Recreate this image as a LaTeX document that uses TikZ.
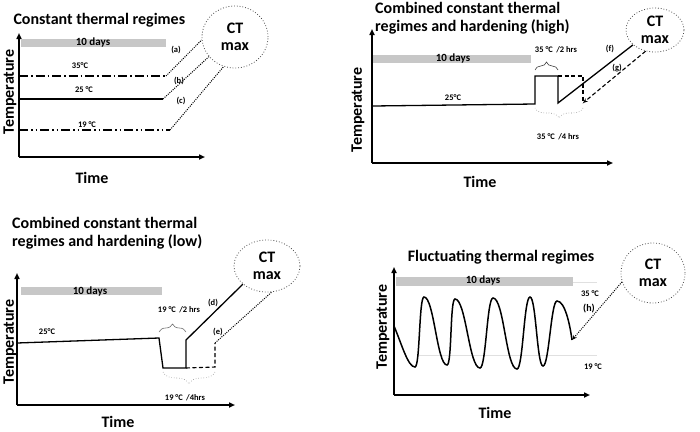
\documentclass[tikz,border=0pt]{standalone}
\usepackage{fontspec}
\setmainfont{Carlito}
\usetikzlibrary{arrows.meta,shapes.geometric,decorations.pathreplacing}
\begin{document}
\begin{tikzpicture}[x=1pt,y=-1pt,
  every node/.style={font=\bfseries},
  title/.style={font=\bfseries\fontsize{16}{18}\selectfont, align=left},
  axislbl/.style={font=\bfseries\fontsize{16}{18}\selectfont},
  small/.style={font=\bfseries\fontsize{8.5}{10}\selectfont},
  daylbl/.style={font=\bfseries\fontsize{11}{12}\selectfont},
  axis/.style={line width=1.6pt, -{Triangle[length=6pt,width=5pt]}},
  regime/.style={line width=1.3pt},
  dayband/.style={fill=black!22},
  ctbubble/.style={draw=black!70, dotted, line width=0.8pt, ellipse, align=center,
    font=\bfseries\fontsize{16}{17}\selectfont},
  link/.style={line width=1pt, dash pattern=on 1pt off 1.2pt},
  dashlink/.style={line width=1.1pt, dash pattern=on 4pt off 2.5pt},
  topbrace/.style={draw=black!75, line width=0.6pt, decorate, decoration={brace, amplitude=8pt}},
  botbrace/.style={draw=black!45, line width=0.6pt, dotted, decorate, decoration={brace, amplitude=10pt}}]
  \useasboundingbox (0,0) rectangle (700,431);

  % ---- Constant thermal regimes
  \node[title, anchor=west] (titleA) at (10,20) {Constant thermal regimes};
  \draw[axis] (19,157) -- (19,33);
  \draw[axis] (19,157) -- (205,157);
  \node[axislbl, rotate=90] (tempA) at (10,92) {Temperature};
  \node[axislbl] (timeA) at (92,178) {Time};
  \fill[dayband] (21,39) rectangle (166,47);
  \node[daylbl] (daysA) at (93,43) {10 days};
  \node[ctbubble, minimum width=66pt, minimum height=62pt] (ctA) at (235,37) {CT\\max};
  \coordinate (a35) at (166,76);
  \coordinate (a25) at (163,99);
  \coordinate (a19) at (170,130);
  \draw[regime, line width=1.2pt, dash pattern=on 9pt off 3pt on 1.5pt off 3pt] (19,76) -- (a35);
  \draw[regime] (19,99) -- (a25);
  \draw[regime, line width=1.2pt, dash pattern=on 9pt off 3pt on 1.5pt off 3pt on 1.5pt off 3pt] (19,130) -- (a19);
  \node[small] (lblA35) at (80,66) {35°C};
  \node[small] (lblA25) at (84,90) {25 °C};
  \node[small] (lblA19) at (87,125) {19 °C};
  \draw[link] (a35) -- (ctA.185);
  \draw[link] (a25) -- (ctA.217);
  \draw[link] (a19) -- (ctA.249);
  \node[small] (la) at (176,50) {(a)};
  \node[small] (lb) at (179,81) {(b)};
  \node[small] (lc) at (181,101) {(c)};

  % ---- Combined constant thermal regimes and hardening (high)
  \node[title, anchor=north west, inner sep=0pt] (titleB) at (375,2) {Combined constant thermal\\regimes and hardening (high)};
  \draw[axis] (372,163) -- (372,29);
  \draw[axis] (372,163) -- (613,163);
  \node[axislbl, rotate=90] (tempB) at (358,110) {Temperature};
  \node[axislbl] (timeB) at (480,182) {Time};
  \fill[dayband] (373,55) rectangle (531,63);
  \node[daylbl] (daysB) at (453,59) {10 days};
  \node[ctbubble, minimum width=58pt, minimum height=44pt, inner sep=1pt] (ctB) at (655,30) {CT\\max};
  \coordinate (b1) at (535,104);
  \coordinate (b2) at (535,76);
  \coordinate (b3) at (558,76);
  \coordinate (b4) at (558,103);
  \coordinate (g1) at (583,76);
  \coordinate (g2) at (583,103);
  \draw[regime] (373,106) -- (b1) -- (b2) -- (b3) -- (b4) -- (ctB.214);
  \draw[dashlink] (b3) -- (g1) -- (g2);
  \draw[dashlink, -{Stealth[length=5pt,width=4pt]}] (ctB.246) -- (g2);
  \node[small] (lblB25) at (453,98) {25°C};
  \draw[topbrace] (535,70) -- (558,70);
  \draw[botbrace] (583,108) -- (535,108);
  \node[small] (lblB2h) at (556,50) {35 °C \,/2 hrs};
  \node[small] (lblB4h) at (558,137) {35 °C \,/4 hrs};
  \node[small] (lf) at (610,49) {(f)};
  \node[small] (lg) at (617,68) {(g)};

  % ---- Combined constant thermal regimes and hardening (low)
  \node[title, anchor=north west, inner sep=0pt] (titleC) at (12,217) {Combined constant thermal\\regimes and hardening (low)};
  \draw[axis] (17,405) -- (17,273);
  \draw[axis] (17,405) -- (235,405);
  \node[axislbl, rotate=90] (tempC) at (10,342) {Temperature};
  \node[axislbl] (timeC) at (118,422) {Time};
  \fill[dayband] (21,287) rectangle (162,295);
  \node[daylbl] (daysC) at (90,291) {10 days};
  \node[ctbubble, minimum width=66pt, minimum height=52pt, inner sep=1pt] (ctC) at (267,266) {CT\\max};
  \coordinate (c1) at (159,338);
  \coordinate (c2) at (163,368);
  \coordinate (c3) at (186,368);
  \coordinate (c4) at (186,340);
  \coordinate (e1) at (215,367);
  \coordinate (e2) at (215,343);
  \draw[regime] (17,343) -- (c1) -- (c2) -- (c3) -- (c4) -- (ctC.217);
  \draw[dashlink] (c3) -- (e1) -- (e2);
  \draw[link] (e2) -- (ctC.280);
  \node[small] (lblC25) at (47,332) {25°C};
  \draw[topbrace, draw=black!55] (159,332) -- (186,332);
  \draw[botbrace, decoration={brace, amplitude=12pt}] (215,372) -- (163,372);
  \node[small] (lblC2h) at (179,310) {19 °C \,/2 hrs};
  \node[small] (lblC4h) at (185,398) {19 °C \,/4hrs};
  \node[small] (ld) at (213,303) {(d)};
  \node[small] (le) at (218,332) {(e)};

  % ---- Fluctuating thermal regimes
  \node[title] (titleD) at (501,257) {Fluctuating thermal regimes};
  \draw[axis] (394,395) -- (394,267);
  \draw[axis] (394,395) -- (590,395);
  \node[axislbl, rotate=90] (tempD) at (383,327) {Temperature};
  \node[axislbl] (timeD) at (495,413) {Time};
  \fill[dayband] (396,277) rectangle (573,286);
  \node[daylbl] (daysD) at (483,281) {10 days};
  \draw[black!12, line width=0.8pt] (573,282) -- (597,282);
  \draw[black!12, line width=0.8pt] (417,355) -- (597,355);
  \node[ctbubble, minimum width=64pt, minimum height=60pt] (ctD) at (653,273) {CT\\max};
  \coordinate (wEnd) at (572,340);
  \draw[regime, line width=1.5pt] (394,326) .. controls (402,345) and (408,367) .. (415,367)
    .. controls +(5,0) and +(-5,0) .. (424,297)
    .. controls +(10,0) and +(-10,0) .. (447,365)
    .. controls +(5,0) and +(-5,0) .. (455,299)
    .. controls +(11,0) and +(-11,0) .. (480,368)
    .. controls +(6,0) and +(-6,0) .. (493,298)
    .. controls +(11,0) and +(-11,0) .. (517,369)
    .. controls +(6,0) and +(-6,0) .. (530,297)
    .. controls +(6,0) and +(-6,0) .. (543,366)
    .. controls +(6,0) and +(-6,0) .. (557,301)
    .. controls (565,301) and (570,325) .. (wEnd);
  \draw[link, -{Stealth[length=5pt,width=4pt]}] (ctD.196) -- (wEnd);
  \node[small] (lblD35) at (590,294) {35 °C};
  \node[small, font=\bfseries\fontsize{10}{12}\selectfont] (lh) at (589,309) {(h)};
  \node[small] (lblD19) at (593,367) {19 °C};
\end{tikzpicture}
\end{document}
